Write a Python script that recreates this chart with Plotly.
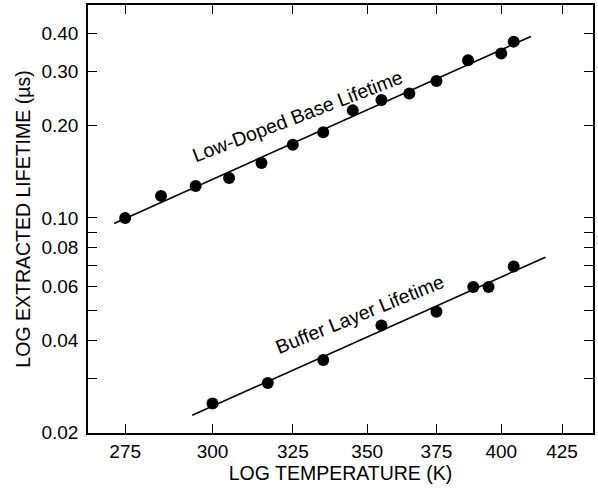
import numpy as np
import plotly.graph_objects as go

# Measured lifetimes vs temperature
base_temp = [275, 285, 295, 305, 315, 325, 335, 345, 355, 365, 375, 387, 400, 405]
base_life = [0.100, 0.118, 0.127, 0.135, 0.151, 0.173, 0.190, 0.224, 0.242, 0.254, 0.279, 0.326, 0.343, 0.375]

buffer_temp = [300, 317, 335, 355, 375, 389, 395, 405]
buffer_life = [0.0249, 0.0290, 0.0345, 0.0447, 0.0495, 0.0596, 0.0596, 0.0695]

# Temperature span over which each power-law fit is drawn
base_fit_span = [272, 412]
buffer_fit_span = [294, 418]

x_ticks = [275, 300, 325, 350, 375, 400, 425]
y_ticks = [0.02, 0.03, 0.04, 0.05, 0.06, 0.07, 0.08, 0.09, 0.10, 0.20, 0.30, 0.40]
y_tick_text = ["0.02", "", "0.04", "", "0.06", "", "0.08", "", "0.10", "0.20", "0.30", "0.40"]

FONT = "Liberation Sans, Arial, Helvetica, sans-serif"


def power_fit(t, y, span):
    slope, icpt = np.polyfit(np.log(t), np.log(y), 1)
    tt = np.array(span, dtype=float)
    return tt, np.exp(icpt + slope * np.log(tt))


fig = go.Figure()

for temps, lifes, span in [(base_temp, base_life, base_fit_span),
                           (buffer_temp, buffer_life, buffer_fit_span)]:
    ft, fy = power_fit(temps, lifes, span)
    fig.add_trace(go.Scatter(x=ft, y=fy, mode="lines",
                             line=dict(color="black", width=1.6),
                             showlegend=False, hoverinfo="skip"))
    fig.add_trace(go.Scatter(x=temps, y=lifes, mode="markers",
                             marker=dict(color="black", size=12),
                             showlegend=False))

fig.add_annotation(x=np.log10(326.5), y=np.log10(0.214), xref="x", yref="y",
                   text="Low-Doped Base Lifetime", showarrow=False, textangle=-21,
                   font=dict(family=FONT, size=19.5, color="black"))
fig.add_annotation(x=np.log10(347.5), y=np.log10(0.0486), xref="x", yref="y",
                   text="Buffer Layer Lifetime", showarrow=False, textangle=-22,
                   font=dict(family=FONT, size=19.5, color="black"))

axis_common = dict(showline=True, linecolor="black", linewidth=1.5, mirror="ticks",
                   ticks="inside", ticklen=9, tickwidth=1.3, tickcolor="black",
                   showgrid=False, zeroline=False,
                   tickfont=dict(family=FONT, size=19, color="black"))

fig.update_xaxes(type="log", range=[np.log10(265), np.log10(438.3)],
                 tickvals=x_ticks, ticktext=[str(v) for v in x_ticks],
                 title=dict(text="LOG TEMPERATURE (K)", standoff=2,
                            font=dict(family=FONT, size=19.5, color="black")),
                 **axis_common)
fig.update_yaxes(type="log", range=[np.log10(0.01995), np.log10(0.4935)],
                 tickvals=y_ticks, ticktext=y_tick_text, ticklabelstandoff=4,
                 title=dict(text="LOG EXTRACTED LIFETIME (µs)", standoff=6,
                            font=dict(family=FONT, size=19.5, color="black")),
                 **axis_common)

fig.update_layout(width=598, height=493, plot_bgcolor="white", paper_bgcolor="white",
                  margin=dict(l=88, r=3, t=3, b=60))

fig.write_html("out.html")
